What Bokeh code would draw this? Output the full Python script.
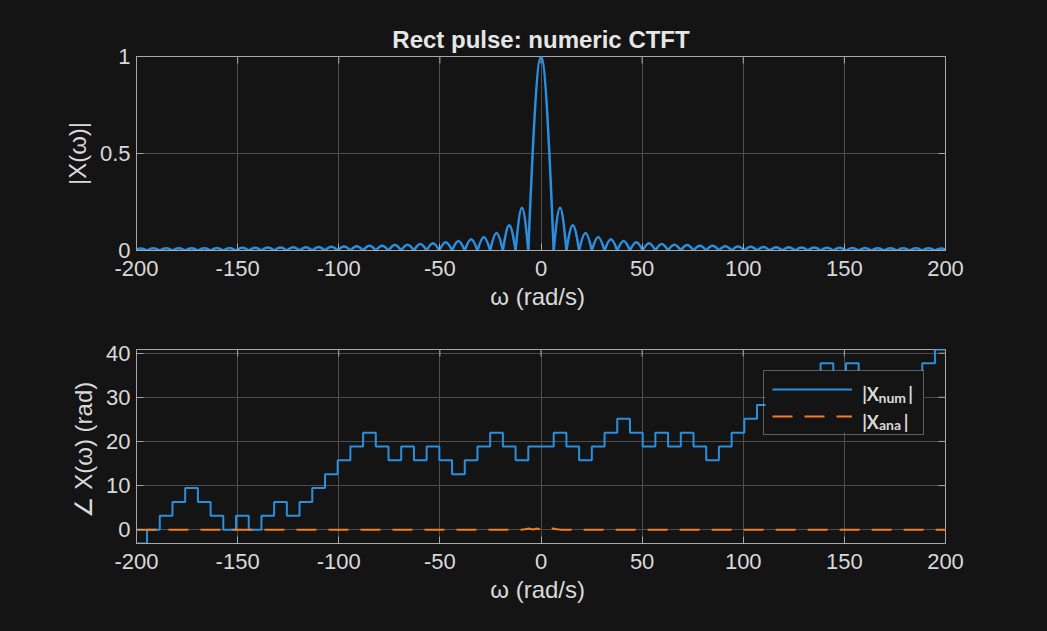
from bokeh.plotting import figure
from bokeh.models import (Range1d, FixedTicker, ColumnDataSource,
                          Legend, LegendItem, Label, BoxAnnotation)
from bokeh.layouts import column
from bokeh.embed import file_html
from bokeh.resources import INLINE

# ---------------- data ----------------
x_ticks = [-200, -150, -100, -50, 0, 50, 100, 150, 200]
x_tick_labels = ["-200", "-150", "-100", "-50", "0", "50", "100", "150", "200"]
mag_ticks = [0, 0.5, 1]
mag_tick_labels = ["0", "0.5", "1"]
ph_ticks = [0, 10, 20, 30, 40]
ph_tick_labels = ["0", "10", "20", "30", "40"]

# zeros of |X(w)| on the positive side (rad/s); spectrum is symmetric about 0
mag_zeros = [6.28, 12.57, 18.85, 25.13, 31.42, 37.70, 43.98, 50.27, 56.55, 62.83,
             69.12, 75.40, 81.68, 87.96, 94.25, 100.53, 106.81, 113.10, 119.38, 125.66,
             131.95, 138.23, 144.51, 150.80, 157.08, 163.36, 169.65, 175.93, 182.21, 188.50,
             194.78, 201.06]
main_peak = 1.0
# peak of each side lobe (between consecutive zeros), positive side
side_peaks = [0.22, 0.13, 0.09, 0.07, 0.058, 0.049, 0.042, 0.037, 0.033, 0.030,
              0.028, 0.025, 0.024, 0.022, 0.021, 0.019, 0.018, 0.017, 0.017, 0.016,
              0.015, 0.014, 0.014, 0.013, 0.013, 0.012, 0.012, 0.011, 0.011, 0.011, 0.010]

# numeric phase: staircase, start of each step (rad/s) and its level (rad)
ph_step_w = [-200, -194.78, -188.50, -182.21, -175.93, -169.65, -163.36, -157.08,
             -150.80, -144.51, -138.23, -131.95, -125.66, -119.38, -113.10, -106.81,
             -100.53, -94.25, -87.96, -81.68, -75.40, -69.12, -62.83, -56.55,
             -50.27, -43.98, -37.70, -31.42, -25.13, -18.85, -12.57, -6.28,
             6.28, 12.57, 18.85, 25.13, 31.42, 37.70, 43.98, 50.27,
             56.55, 62.83, 69.12, 75.40, 81.68, 87.96, 94.25, 100.53,
             106.81, 113.10, 119.38, 125.66, 131.95, 138.23, 144.51, 150.80,
             157.08, 163.36, 169.65, 175.93, 182.21, 188.50, 194.78, 200]
ph_step_val = [-3.14, 0.00, 3.14, 6.28, 9.42, 6.28, 3.14, 0.00,
               3.14, 0.00, 3.14, 6.28, 3.14, 6.28, 9.42, 12.57,
               15.71, 18.85, 21.99, 18.85, 15.71, 18.85, 15.71, 18.85,
               15.71, 12.57, 15.71, 18.85, 21.99, 18.85, 15.71, 18.85,
               21.99, 18.85, 15.71, 18.85, 21.99, 25.13, 21.99, 18.85,
               21.99, 18.85, 21.99, 18.85, 15.71, 18.85, 21.99, 25.13,
               28.27, 31.42, 34.56, 31.42, 34.56, 37.70, 34.56, 37.70,
               34.56, 31.42, 34.56, 31.42, 34.56, 37.70, 40.84, 40.84]

# analytic phase (dashed): flat at 0 with a little ripple near w = 0
ana_w = [-200, -10, -8, -6, -4, -2, 0, 2, 4, 6, 8, 10, 200]
ana_phase = [0, 0, 0.1, 0.25, 0.05, 0.25, 0, 0.25, 0.05, 0.25, 0.1, 0, 0]

# ---------------- style ----------------
BG = "#141414"
FRAME = "#a8a8a8"
GRID = "#4d4d4d"
TXT = "#d9d9d9"
BLUE = "#2b8fe0"
ORANGE = "#f27c22"
FONT = "Liberation Sans, DejaVu Sans"
FRAME_W, FRAME_H, TICK = 809, 194, 7


def style(p, xt, xtl, yt, ytl, xlabel, ylabel):
    p.background_fill_color = BG
    p.border_fill_color = BG
    p.outline_line_color = FRAME
    p.xaxis.ticker = FixedTicker(ticks=xt)
    p.yaxis.ticker = FixedTicker(ticks=yt)
    p.xgrid.ticker = FixedTicker(ticks=xt)
    p.ygrid.ticker = FixedTicker(ticks=yt)
    p.xaxis.major_label_overrides = dict(zip(xt, xtl))
    p.yaxis.major_label_overrides = dict(zip(yt, ytl))
    p.xaxis.axis_label = xlabel
    p.yaxis.axis_label = ylabel
    for g in (p.xgrid, p.ygrid):
        g.grid_line_color = GRID
        g.grid_line_width = 1
    for ax in p.axis:
        ax.axis_line_color = FRAME
        ax.major_tick_line_color = FRAME
        ax.major_tick_in = TICK
        ax.major_tick_out = 0
        ax.minor_tick_line_color = None
        ax.major_label_text_color = TXT
        ax.major_label_text_font = FONT
        ax.major_label_text_font_size = "22px"
        ax.axis_label_text_color = TXT
        ax.axis_label_text_font = FONT
        ax.axis_label_text_font_size = "24px"
        ax.axis_label_text_font_style = "normal"
    p.xaxis.major_label_standoff = 10
    p.xaxis.axis_label_standoff = 4
    p.yaxis.major_label_standoff = 6
    p.yaxis.axis_label_standoff = 6
    # inward ticks mirrored on the top and right edges of the box
    xr, yr = p.x_range, p.y_range
    dy = TICK * (yr.end - yr.start) / FRAME_H
    dx = TICK * (xr.end - xr.start) / FRAME_W
    p.segment(x0=xt, x1=xt, y0=[yr.end] * len(xt), y1=[yr.end - dy] * len(xt),
              line_color=FRAME, line_width=1)
    p.segment(x0=[xr.end] * len(yt), x1=[xr.end - dx] * len(yt), y0=yt, y1=yt,
              line_color=FRAME, line_width=1)


# ---------------- top: magnitude ----------------
p1 = figure(width=1045, height=318, output_backend="svg", toolbar_location=None,
            x_range=Range1d(-200, 200), y_range=Range1d(0, 1),
            min_border_left=136, min_border_right=100, min_border_top=56, min_border_bottom=68)
p1.title.text = "Rect pulse: numeric CTFT"
p1.title.align = "center"
p1.title.text_font = FONT
p1.title.text_font_size = "24px"
p1.title.text_font_style = "bold"
p1.title.text_color = "#e6e6e6"
p1.title.standoff = 8
style(p1, x_ticks, x_tick_labels, mag_ticks, mag_tick_labels, "ω  (rad/s)", "|X(ω)|")

# each lobe of |X| drawn as a smooth arch between two zeros
x0, x1, pk = [-mag_zeros[0]], [mag_zeros[0]], [main_peak]
for i, h in enumerate(side_peaks):
    x0 += [mag_zeros[i], -mag_zeros[i + 1]]
    x1 += [mag_zeros[i + 1], -mag_zeros[i]]
    pk += [h, h]
K = 0.4244  # control-point spacing giving a half-sine-like arch
lobes = ColumnDataSource(dict(
    x0=x0, x1=x1, y0=[0] * len(x0), y1=[0] * len(x0),
    cx0=[a + K * (b - a) for a, b in zip(x0, x1)],
    cx1=[b - K * (b - a) for a, b in zip(x0, x1)],
    cy0=[4 / 3 * h for h in pk], cy1=[4 / 3 * h for h in pk]))
p1.bezier(x0="x0", y0="y0", x1="x1", y1="y1", cx0="cx0", cy0="cy0", cx1="cx1", cy1="cy1",
          source=lobes, line_color=BLUE, line_width=2.5)

# ---------------- bottom: phase ----------------
p2 = figure(width=1045, height=311, output_backend="svg", toolbar_location=None,
            x_range=Range1d(-200, 200), y_range=Range1d(-3.1416, 40.841),
            min_border_left=136, min_border_right=100, min_border_top=31, min_border_bottom=86)
style(p2, x_ticks, x_tick_labels, ph_ticks, ph_tick_labels, "ω  (rad/s)", "∠ X(ω)  (rad)")

r_num = p2.step(ph_step_w, ph_step_val, mode="after", line_color=BLUE, line_width=2)
r_ana = p2.line(ana_w, ana_phase, line_color=ORANGE, line_width=2, line_dash="20 12")

# opaque legend background, then a transparent legend (border + line samples) on top
p2.add_layout(BoxAnnotation(left=111.0, right=189.6, top=36.08, bottom=22.03,
                            fill_color=BG, fill_alpha=1.0, line_color=None))
legend = Legend(items=[LegendItem(label="", renderers=[r_num]),
                       LegendItem(label="", renderers=[r_ana])],
                location="top_right", margin=21, padding=8, spacing=7,
                glyph_width=80, glyph_height=20, label_width=55, label_height=20,
                label_standoff=8, background_fill_alpha=0.0,
                border_line_color=FRAME, border_line_width=1.5)
p2.add_layout(legend, "center")

# legend texts with subscripts
leg_txt = [("|X", 158.8, 30.64, "18px"), ("num", 166.9, 29.96, "14px"), ("|", 181.6, 30.64, "18px"),
           ("|X", 158.8, 24.45, "18px"), ("ana", 167.1, 23.84, "14px"), ("|", 179.4, 24.45, "18px")]
for t, lx, ly, fs in leg_txt:
    p2.add_layout(Label(x=lx, y=ly, text=t, level="overlay",
                        text_font="Lato", text_font_size=fs, text_font_style="bold",
                        text_color=TXT, text_baseline="alphabetic"))

layout = column(p1, p2, spacing=0)
html = file_html(layout, INLINE)
html = html.replace("</head>", "<style>html, body {background: #141414;}</style></head>", 1)
open("out.html", "w").write(html)
